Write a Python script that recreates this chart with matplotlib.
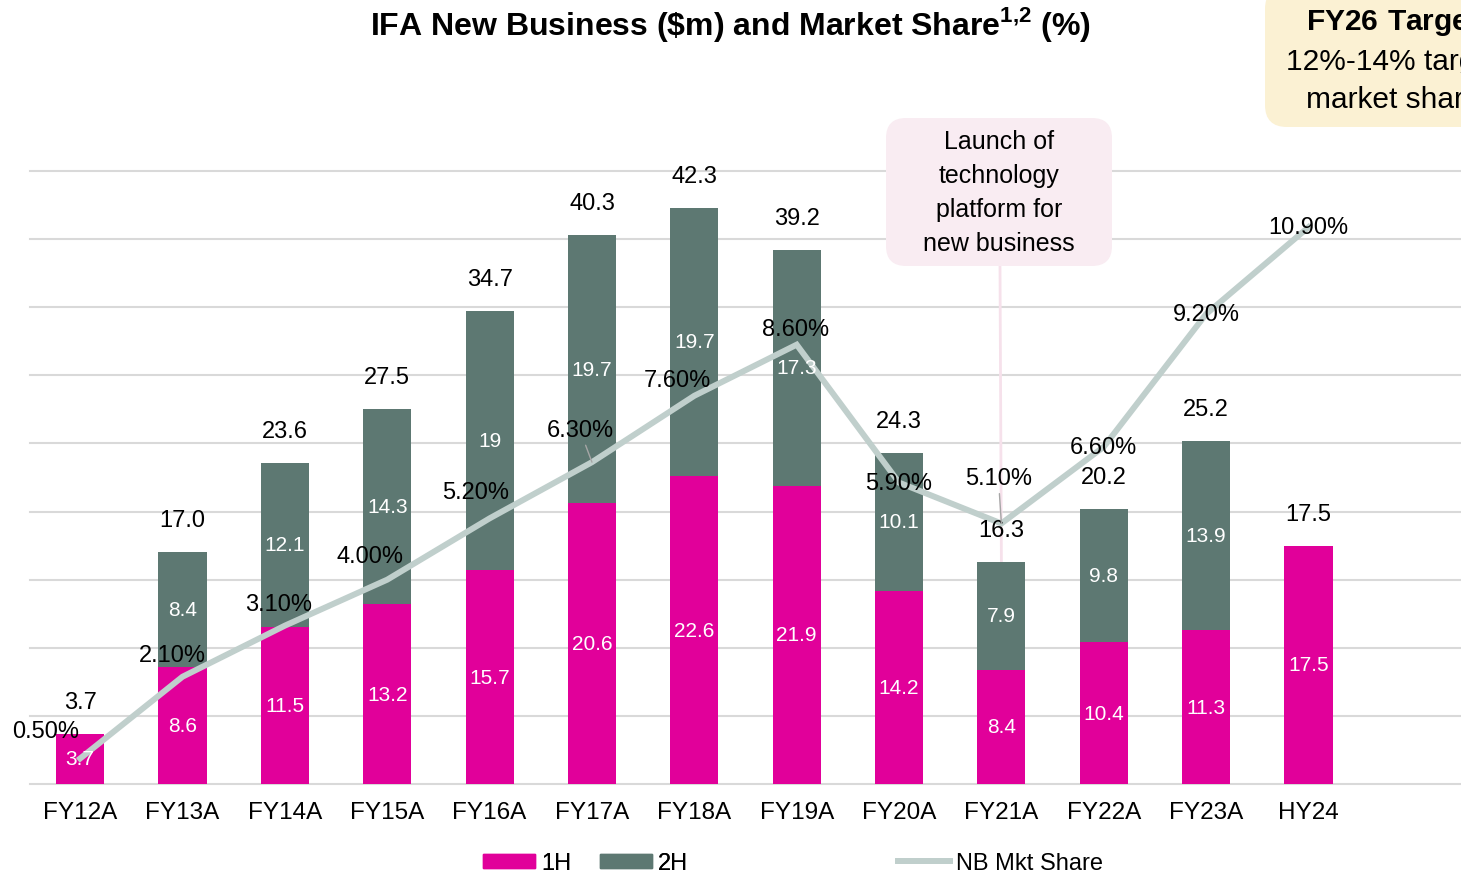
import numpy as np
import matplotlib
matplotlib.use('Agg')
import matplotlib.pyplot as plt
from matplotlib.lines import Line2D
from matplotlib.patches import Patch, FancyBboxPatch
from matplotlib.transforms import IdentityTransform

plt.rcParams['font.family'] = ['Liberation Sans', 'DejaVu Sans']
plt.rcParams['mathtext.fontset'] = 'custom'
plt.rcParams['mathtext.rm'] = 'Liberation Sans'
plt.rcParams['mathtext.bf'] = 'Liberation Sans:bold'

cats = ['FY12A', 'FY13A', 'FY14A', 'FY15A', 'FY16A', 'FY17A', 'FY18A',
        'FY19A', 'FY20A', 'FY21A', 'FY22A', 'FY23A', 'HY24']
h1 = [3.7, 8.6, 11.5, 13.2, 15.7, 20.6, 22.6, 21.9, 14.2, 8.4, 10.4, 11.3, 17.5]
h2 = [0, 8.4, 12.1, 14.3, 19, 19.7, 19.7, 17.3, 10.1, 7.9, 9.8, 13.9, 0]
share = [0.5, 2.1, 3.1, 4.0, 5.2, 6.3, 7.6, 8.6, 5.9, 5.1, 6.6, 9.2, 10.9]

# label offsets for the share labels (pixels, relative to the point)
share_off = [(-35, 27), (-10, 22), (-6, 22), (-17, 24), (-14, 26), (-12, 32), (-17, 16),
             (-1, 16), (0, 0), (-3, 45), (0, 0), (0, 0), (0, 0)]
leader = [5, 9]

MAG = '#E1009A'
GRN = '#5D7872'
LN = '#C0CFCC'

W, H = 1461, 879
fig = plt.figure(figsize=(W / 100, H / 100), dpi=100)
ax = fig.add_axes([30 / W, (H - 785) / H, 1 - 30 / W, (785 - 172) / H])
ax2 = ax.twinx()

x = np.arange(len(cats))
h1a = np.array(h1)
h2a = np.array(h2)
tot = h1a + h2a
bw = 0.47
has2 = h2a > 0
ax.bar(x, h1a, bw, color=MAG, zorder=2)
ax.bar(x[has2], h2a[has2], bw, bottom=h1a[has2], color=GRN, zorder=2)

ax.set_xlim(-0.49, 13.49)
ax.set_ylim(0, 45)
ax2.set_ylim(0, 12)
ax.set_yticks(np.arange(0, 50, 5))
ax.grid(axis='y', color='#D9D9D9', lw=1.5)
for gl in ax.get_ygridlines():
    gl.set_clip_on(False)
ax.set_axisbelow(True)
for a in (ax, ax2):
    for s in a.spines.values():
        s.set_visible(False)
ax.tick_params(axis='y', left=False, labelleft=False)
ax2.set_yticks([])
ax.set_xticks(x)
ax.set_xticklabels(cats, fontsize=17.5)
ax.tick_params(axis='x', length=0, pad=12)

ax2.plot(x, share, color=LN, lw=4.3, solid_joinstyle='miter', zorder=3)

px = 0.72
for i in x:
    ax2.annotate(f'{h1[i]:g}', (i, h1[i] / 2), xycoords=ax.transData, ha='center', va='center',
                 color='white', fontsize=15, zorder=5)
    if h2[i] > 0:
        ax2.annotate(f'{h2[i]:g}', (i, h1[i] + h2[i] / 2), xycoords=ax.transData, ha='center',
                     va='center', color='white', fontsize=15, zorder=5)
    ax2.annotate(f'{tot[i]:.1f}', (i, tot[i]), xycoords=ax.transData, xytext=(0, 23),
                 textcoords='offset points', ha='center', va='center', fontsize=17, zorder=5)
    dx, dy = share_off[i]
    ap = dict(arrowstyle='-', color='#A6A6A6', lw=1, shrinkA=1, shrinkB=0) if i in leader else None
    ax2.annotate(f'{share[i]:.2f}%', (i, share[i]), xytext=(dx * px, dy * px),
                 textcoords='offset points', ha='center', va='center', fontsize=17,
                 arrowprops=ap, zorder=6)

# launch callout (box in pixels)
fig.add_artist(FancyBboxPatch((886, H - 267), 226, 148, boxstyle='round,pad=0,rounding_size=20',
                              fc='#F9ECF2', ec='none', transform=IdentityTransform()))
ax.annotate('', xy=(9, tot[9]), xytext=(1000, H - 267), textcoords='figure pixels',
            arrowprops=dict(arrowstyle='-', color='#F6E1EB', lw=2, shrinkA=0, shrinkB=0),
            annotation_clip=False, zorder=1)
fig.text(999 / W, 1 - 193 / H, 'Launch of\ntechnology\nplatform for\nnew business',
         ha='center', va='center', fontsize=18, linespacing=1.52)

fig.text(0.5, 1 - 24 / H, r'IFA New Business (\$m) and Market Share$^{\mathbf{1{,}2}}$ (%)',
         ha='center', va='center', fontsize=23, fontweight='bold')

# FY26 target box (cut at the right edge as in the source)
fig.add_artist(FancyBboxPatch((1265, H - 128), 256, 140, boxstyle='round,pad=0,rounding_size=22',
                              fc='#FBF1D3', ec='none', transform=IdentityTransform()))
fig.text(1393 / W, 1 - 61 / H, '$\\mathbf{FY26\\ Target}$\n12%-14% target\nmarket share',
         ha='center', va='center', fontsize=21.5, linespacing=1.44)

leg1 = fig.legend(handles=[Patch(color=MAG, label='1H'), Patch(color=GRN, label='2H')],
                  loc='center left', bbox_to_anchor=(483 / W, 1 - 864 / H), ncol=2, frameon=False,
                  fontsize=17, borderpad=0, borderaxespad=0, handlelength=2.2, handleheight=0.55,
                  handletextpad=0.25, columnspacing=1.25)
leg2 = fig.legend(handles=[Line2D([], [], color=LN, lw=4.3, label='NB Mkt Share')],
                  loc='center left', bbox_to_anchor=(898 / W, 1 - 864 / H), frameon=False,
                  fontsize=17, borderpad=0, borderaxespad=0, handlelength=2.2, handletextpad=0.25)
fig.add_artist(leg1)

fig.savefig('out.png', dpi=100)
